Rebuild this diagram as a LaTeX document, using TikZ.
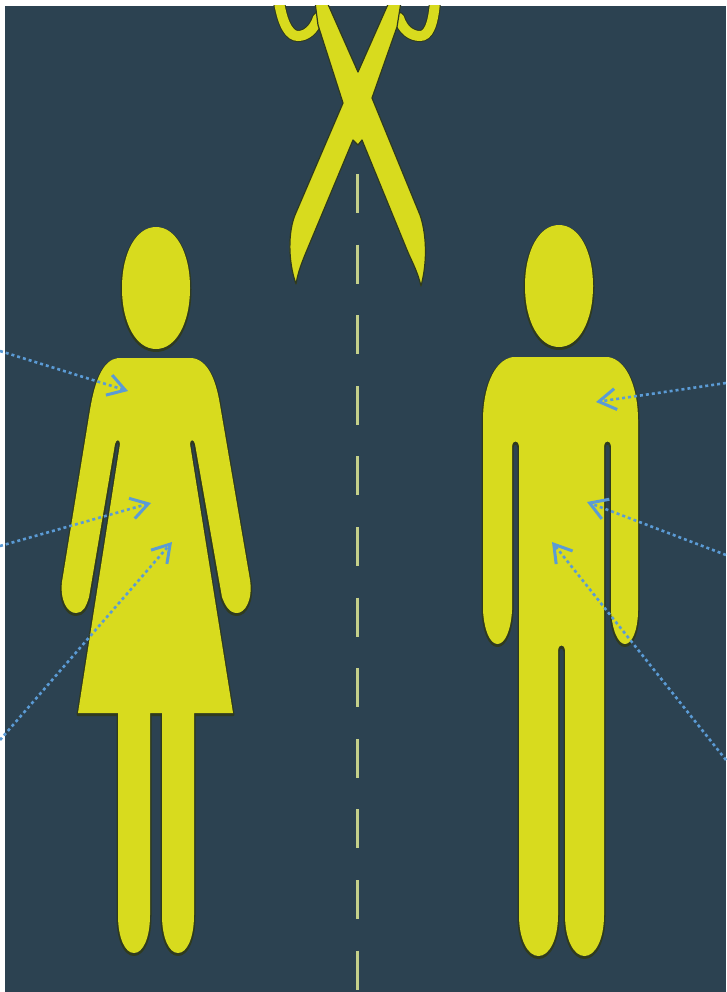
\documentclass[tikz,border=0pt]{standalone}
\usetikzlibrary{arrows.meta}
\definecolor{bgc}{HTML}{2C4251}
\definecolor{fig}{HTML}{D8DB1E}
\definecolor{halo}{HTML}{2F3A1E}
\definecolor{cut}{HTML}{C5D08A}
\definecolor{pointer}{HTML}{5B9BD5}
\tikzset{
  figshape/.style={fill=fig},
  haloline/.style={draw=halo,line width=3pt,line join=round,yshift=-1.5pt},
  bladeshape/.style={fill=fig,draw=halo,line width=1.2pt,line join=round},
  loopline/.style={draw=halo,line width=12pt,line cap=round},
  loopfill/.style={draw=fig,line width=10pt,line cap=round},
  cutline/.style={draw=cut,line width=2.6pt,dash pattern=on 39pt off 31.6pt},
  pointerline/.style={draw=pointer,line width=2.6pt,dash pattern=on 3pt off 3pt,
    -{Straight Barb[length=17pt,width=21pt,line width=3pt]}},
}
\begin{document}
\begin{tikzpicture}[x=1pt,y=-1pt]
\useasboundingbox (0,0) rectangle (726,992);
\fill[white] (0,0) rectangle (726,992);
\fill[bgc] (5,6) rectangle (726,992);

% cutting line
\coordinate (cuttop) at (357.5,174);
\coordinate (cutend) at (357.5,992);
\draw[cutline] (cuttop) -- (cutend);

% scissors
\begin{scope}
\clip (5,6) rectangle (726,992);
\draw[loopline] (279,2) .. controls (283,26) and (290,36) .. (298,36) .. controls (306,36) and (314,30) .. (318,18);
\draw[loopline] (399,18) .. controls (403,30) and (411,36) .. (420,36) .. controls (428,36) and (433,26) .. (435,2);
\draw[loopfill] (279,2) .. controls (283,26) and (290,36) .. (298,36) .. controls (306,36) and (314,30) .. (318,18);
\draw[loopfill] (399,18) .. controls (403,30) and (411,36) .. (420,36) .. controls (428,36) and (433,26) .. (435,2);
\path[bladeshape] (315,2) -- (327,2) -- (358,72) -- (389,2) -- (401,2) -- (397,27) -- (372,98)
  -- (420,215) .. controls (426,232) and (428,260) .. (421,286)
  .. controls (417,270) and (412,262) .. (407,250) -- (362,140) -- (358,145) -- (353,140)
  -- (307,250) .. controls (302,262) and (298,272) .. (296,284)
  .. controls (288,262) and (288,232) .. (295,215) -- (343,103) -- (318,25) -- cycle;
\end{scope}

% woman
\foreach \style in {haloline,figshape}{
\path[\style] (156,227) .. controls (176,227) and (190,253) .. (190,288)
  .. controls (190,323) and (176,349) .. (156,349)
  .. controls (136,349) and (122,323) .. (122,288)
  .. controls (122,253) and (136,227) .. (156,227) -- cycle;
\path[\style] (118,358) -- (192,358) .. controls (208,360) and (216,380) .. (220,405)
  -- (250,580) .. controls (253,600) and (245,613) .. (237,613)
  .. controls (229,613) and (225,605) .. (222,597)
  -- (195,444) .. controls (194,439) and (190,439) .. (190,444)
  -- (233,713) -- (194,713) -- (194,915)
  .. controls (194,938) and (187,953) .. (178,953) .. controls (169,953) and (162,938) .. (162,915)
  -- (162,713) -- (150,713) -- (150,915)
  .. controls (150,938) and (143,953) .. (134,953) .. controls (125,953) and (118,938) .. (118,915)
  -- (118,713) -- (78,713) -- (120,444) .. controls (120,439) and (116,439) .. (115,444)
  -- (89,597)
  .. controls (86,607) and (83,613) .. (76,613)
  .. controls (67,613) and (60,600) .. (62,582)
  -- (90,410) .. controls (95,380) and (103,360) .. (118,358) -- cycle;
}

% man
\foreach \style in {haloline,figshape}{
\path[\style] (559,225) .. controls (579,225) and (593,251) .. (593,286)
  .. controls (593,321) and (579,347) .. (559,347)
  .. controls (539,347) and (525,321) .. (525,286)
  .. controls (525,251) and (539,225) .. (559,225) -- cycle;
\path[\style] (513,357) -- (608,357) .. controls (628,360) and (638,390) .. (638,420)
  -- (638,610) .. controls (638,630) and (632,644) .. (625,644)
  .. controls (618,644) and (612,630) .. (611,610)
  -- (611,446) .. controls (611,440) and (604,440) .. (604,446) -- (604,915)
  .. controls (604,940) and (595,956) .. (584.5,956)
  .. controls (574,956) and (565,940) .. (565,915)
  -- (565,650) .. controls (565,644) and (558,644) .. (558,650) -- (558,915)
  .. controls (558,940) and (549,956) .. (538.5,956)
  .. controls (528,956) and (519,940) .. (519,915)
  -- (519,446) .. controls (519,440) and (512,440) .. (512,446) -- (512,610)
  .. controls (511,630) and (505,644) .. (497.5,644)
  .. controls (490,644) and (484,630) .. (483,610)
  -- (483,420) .. controls (483,390) and (493,360) .. (513,357) -- cycle;
}

% pointers
\coordinate (la) at (0,351);   \coordinate (lat) at (128,391);
\coordinate (lb) at (0,546);   \coordinate (lbt) at (151,503);
\coordinate (lc) at (0,740);   \coordinate (lct) at (172,542);
\coordinate (ra) at (726,383); \coordinate (rat) at (596,402);
\coordinate (rb) at (726,555); \coordinate (rbt) at (587,502);
\coordinate (rc) at (726,760); \coordinate (rct) at (552,542);
\draw[pointerline] (la) -- (lat);
\draw[pointerline] (lb) -- (lbt);
\draw[pointerline] (lc) -- (lct);
\draw[pointerline] (ra) -- (rat);
\draw[pointerline] (rb) -- (rbt);
\draw[pointerline] (rc) -- (rct);
\end{tikzpicture}
\end{document}
